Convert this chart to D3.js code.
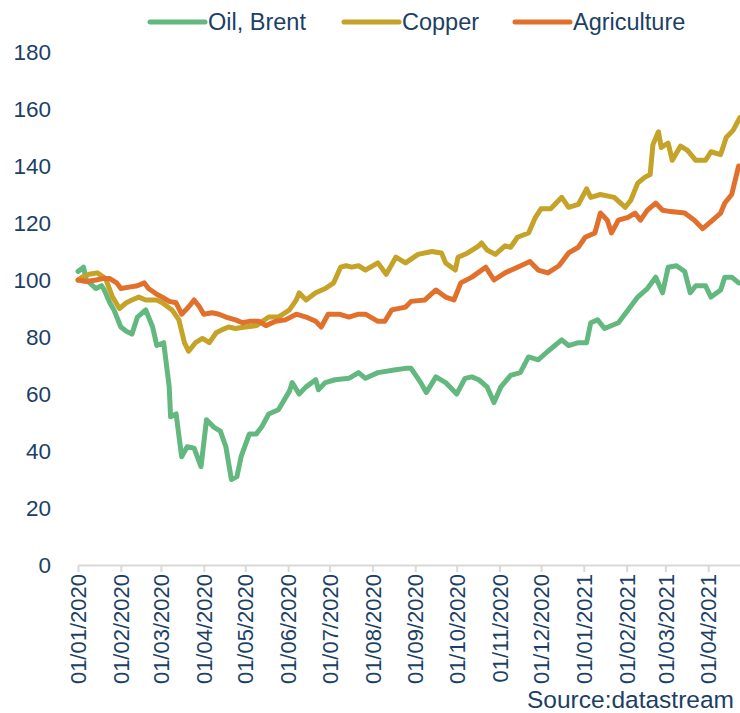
<!DOCTYPE html>
<html>
<head>
<meta charset="utf-8">
<script src="https://cdn.jsdelivr.net/npm/d3@7"></script>
<style>
  body { margin: 0; background: #fff; }
  svg { display: block; font-family: "Liberation Sans", Arial, sans-serif; }
</style>
</head>
<body>
<svg id="chart" width="740" height="713"></svg>
<script>
// Series names and colours
const seriesNames = ["Oil, Brent", "Copper", "Agriculture"];
const seriesColors = ["#62b87f", "#c5a228", "#e2702d"];

// Month ticks on the x axis
const monthTicks = ["2020-01-01", "2020-02-01", "2020-03-01", "2020-04-01", "2020-05-01", "2020-06-01",
  "2020-07-01", "2020-08-01", "2020-09-01", "2020-10-01", "2020-11-01", "2020-12-01",
  "2021-01-01", "2021-02-01", "2021-03-01", "2021-04-01"];
const yTicks = [0, 20, 40, 60, 80, 100, 120, 140, 160, 180];

// Oil, Brent (index, 01/01/2020 = 100)
const oilDates = ["2020-01-01", "2020-01-05", "2020-01-07", "2020-01-14", "2020-01-18", "2020-01-20", "2020-01-24",
  "2020-01-27", "2020-02-01", "2020-02-05", "2020-02-09", "2020-02-13", "2020-02-19", "2020-02-24", "2020-02-27",
  "2020-03-03", "2020-03-07", "2020-03-08", "2020-03-12", "2020-03-16", "2020-03-20", "2020-03-25", "2020-03-30",
  "2020-04-03", "2020-04-08", "2020-04-13", "2020-04-17", "2020-04-21", "2020-04-25", "2020-04-28", "2020-05-04",
  "2020-05-09", "2020-05-13", "2020-05-18", "2020-05-25", "2020-06-02", "2020-06-04", "2020-06-09", "2020-06-14",
  "2020-06-21", "2020-06-23", "2020-06-28", "2020-07-05", "2020-07-15", "2020-07-22", "2020-07-27", "2020-08-05",
  "2020-08-18", "2020-08-25", "2020-08-29", "2020-09-05", "2020-09-09", "2020-09-16", "2020-09-23", "2020-10-01",
  "2020-10-07", "2020-10-12", "2020-10-17", "2020-10-23", "2020-10-28", "2020-11-02", "2020-11-09", "2020-11-16",
  "2020-11-22", "2020-11-29", "2020-12-06", "2020-12-16", "2020-12-21", "2020-12-28", "2021-01-03", "2021-01-06",
  "2021-01-11", "2021-01-16", "2021-01-26", "2021-02-02", "2021-02-09", "2021-02-16", "2021-02-22", "2021-02-27",
  "2021-03-03", "2021-03-09", "2021-03-15", "2021-03-19", "2021-03-23", "2021-03-30", "2021-04-03", "2021-04-10",
  "2021-04-13", "2021-04-18", "2021-04-23"];
const oilValues = [103, 104.5, 100, 97, 98, 96.5, 92,
  89.5, 83.5, 82, 81, 87, 89.5, 83.5, 77,
  78, 62.5, 52, 53, 38, 41.5, 41, 34.5,
  51, 48.5, 47, 41.5, 30, 31, 38, 46,
  46, 48.5, 53, 54.5, 61, 64, 60, 62.5,
  65, 61.5, 64, 65, 65.5, 67.5, 65.5, 67.5,
  68.5, 69, 69, 64, 60.5, 66, 64, 60,
  65.5, 66, 65, 62.5, 57, 62.5, 66.5, 67.5,
  73, 72, 75, 79, 77, 78, 78, 85,
  86, 83, 85, 89.5, 94, 97, 101, 95.5,
  104.5, 105, 103, 95.5, 98, 98, 94, 96.5,
  101, 101, 99];

// Copper
const copperDates = ["2020-01-01", "2020-01-04", "2020-01-09", "2020-01-15", "2020-01-21", "2020-01-26", "2020-01-31",
  "2020-02-05", "2020-02-09", "2020-02-14", "2020-02-19", "2020-02-27", "2020-03-02", "2020-03-09", "2020-03-14",
  "2020-03-18", "2020-03-21", "2020-03-26", "2020-03-31", "2020-04-05", "2020-04-10", "2020-04-14", "2020-04-19",
  "2020-04-24", "2020-05-01", "2020-05-09", "2020-05-18", "2020-05-25", "2020-06-02", "2020-06-07", "2020-06-09",
  "2020-06-14", "2020-06-21", "2020-06-28", "2020-07-04", "2020-07-09", "2020-07-13", "2020-07-17", "2020-07-22",
  "2020-07-27", "2020-08-05", "2020-08-11", "2020-08-18", "2020-08-25", "2020-09-03", "2020-09-13", "2020-09-20",
  "2020-09-23", "2020-09-30", "2020-10-02", "2020-10-09", "2020-10-17", "2020-10-19", "2020-10-23", "2020-10-29",
  "2020-11-05", "2020-11-09", "2020-11-14", "2020-11-22", "2020-11-27", "2020-12-01", "2020-12-08", "2020-12-16",
  "2020-12-21", "2020-12-28", "2021-01-03", "2021-01-06", "2021-01-13", "2021-01-23", "2021-01-31", "2021-02-04",
  "2021-02-09", "2021-02-14", "2021-02-18", "2021-02-20", "2021-02-24", "2021-02-26", "2021-03-03", "2021-03-06",
  "2021-03-12", "2021-03-17", "2021-03-23", "2021-03-30", "2021-04-03", "2021-04-10", "2021-04-14", "2021-04-19",
  "2021-04-24"];
const copperValues = [100, 101, 102, 102.5, 100.5, 94, 90,
  92, 93, 94, 93, 93, 92, 89.5, 86,
  78, 75, 78, 79.5, 78, 81.5, 82.5, 83.5,
  83, 83.5, 84, 87, 87, 89.5, 93, 95.5,
  93, 95.5, 97, 99, 104.5, 105, 104.5, 105,
  103.5, 106, 102, 108, 106, 109, 110, 109.5,
  106, 103.5, 108, 109.5, 112, 113, 110.5, 109,
  112, 111.5, 115, 116.5, 122, 125, 125, 129,
  125.5, 126.5, 132, 129, 130, 129, 125.5, 128,
  134, 136, 137, 147.5, 152, 146.5, 148, 142,
  147, 145.5, 142, 142, 145, 144, 150, 152.5,
  157];

// Agriculture
const agriDates = ["2020-01-01", "2020-01-07", "2020-01-14", "2020-01-19", "2020-01-24", "2020-01-29", "2020-02-01",
  "2020-02-07", "2020-02-13", "2020-02-18", "2020-02-21", "2020-02-27", "2020-03-02", "2020-03-07", "2020-03-12",
  "2020-03-16", "2020-03-21", "2020-03-25", "2020-03-29", "2020-04-01", "2020-04-07", "2020-04-12", "2020-04-17",
  "2020-04-24", "2020-04-29", "2020-05-04", "2020-05-11", "2020-05-16", "2020-05-23", "2020-05-30", "2020-06-07",
  "2020-06-14", "2020-06-21", "2020-06-25", "2020-06-30", "2020-07-08", "2020-07-15", "2020-07-22", "2020-07-27",
  "2020-08-05", "2020-08-10", "2020-08-15", "2020-08-25", "2020-08-29", "2020-09-08", "2020-09-16", "2020-09-23",
  "2020-09-29", "2020-10-04", "2020-10-12", "2020-10-22", "2020-10-28", "2020-11-05", "2020-11-14", "2020-11-23",
  "2020-11-29", "2020-12-06", "2020-12-14", "2020-12-21", "2020-12-28", "2021-01-02", "2021-01-09", "2021-01-13",
  "2021-01-18", "2021-01-21", "2021-01-26", "2021-02-02", "2021-02-07", "2021-02-11", "2021-02-16", "2021-02-22",
  "2021-02-27", "2021-03-05", "2021-03-15", "2021-03-22", "2021-03-28", "2021-04-03", "2021-04-10", "2021-04-13",
  "2021-04-18", "2021-04-23"];
const agriValues = [100, 99.5, 100, 100.5, 100.5, 99, 97,
  97.5, 98, 99, 97, 95, 94, 92.5, 92,
  88, 90.5, 93, 90.5, 88, 88.5, 88, 87,
  86, 85, 85.5, 85.5, 84, 85.5, 86, 88,
  87, 85.5, 83.5, 88, 88, 87, 88, 88,
  85.5, 85.5, 89.5, 90.5, 92.5, 93, 96.5, 94,
  93, 99, 101, 104.5, 100, 102.5, 104.5, 106.5,
  103.5, 102.5, 105, 109.5, 111.5, 115, 116.5, 123.5,
  121, 116.5, 121, 122, 123.5, 121, 124.5, 127,
  124.5, 124, 123.5, 121, 118, 120.5, 123.5, 127,
  130, 140];

const parseDate = d3.timeParse("%Y-%m-%d");

const series = [
  { name: seriesNames[0], color: seriesColors[0], dates: oilDates, values: oilValues },
  { name: seriesNames[1], color: seriesColors[1], dates: copperDates, values: copperValues },
  { name: seriesNames[2], color: seriesColors[2], dates: agriDates, values: agriValues }
].map(function(s) {
  return {
    name: s.name,
    color: s.color,
    points: s.dates.map(function(d, i) { return { date: parseDate(d), value: s.values[i] }; })
  };
});

// Layout
const plot = { left: 78, right: 740, top: 52, bottom: 565 };
const textColor = "#1c3f66";

const svg = d3.select("#chart");

const xScale = d3.scaleTime()
                 .domain([parseDate("2020-01-01"), parseDate("2021-04-24")])
                 .range([plot.left, plot.right]);
const yScale = d3.scaleLinear()
                 .domain([0, 180])
                 .range([plot.bottom, plot.top]);

// Y axis (labels only)
const yAxisG = svg.append("g")
                  .attr("transform", `translate(${plot.left},0)`)
                  .call(d3.axisLeft(yScale).tickValues(yTicks).tickSize(0).tickPadding(27));
yAxisG.select(".domain").remove();
yAxisG.selectAll("text")
      .attr("fill", textColor)
      .style("font-size", "22.5px")
      .style("font-family", "Liberation Sans, Arial, sans-serif");

// X axis
const xAxisG = svg.append("g")
                  .attr("transform", `translate(0,${plot.bottom})`)
                  .call(d3.axisBottom(xScale)
                          .tickValues(monthTicks.map(parseDate))
                          .tickFormat(d3.timeFormat("%d/%m/%Y"))
                          .tickSizeInner(7)
                          .tickSizeOuter(0));
xAxisG.select(".domain")
      .attr("stroke", "#d9d9d9")
      .attr("stroke-width", 2);
xAxisG.selectAll(".tick line")
      .attr("stroke", "#d9d9d9")
      .attr("stroke-width", 2);
xAxisG.selectAll("text")
      .attr("fill", textColor)
      .style("font-size", "22px")
      .style("font-family", "Liberation Sans, Arial, sans-serif")
      .style("text-anchor", "end")
      .attr("transform", "rotate(-90)")
      .attr("x", -9)
      .attr("y", 0)
      .attr("dy", "0.35em");

// Lines
const line = d3.line()
               .x(function(d) { return xScale(d.date); })
               .y(function(d) { return yScale(d.value); });

svg.append("defs").append("clipPath")
   .attr("id", "plot-clip")
   .append("rect")
   .attr("x", plot.left - 5).attr("y", 0)
   .attr("width", plot.right - plot.left + 5).attr("height", plot.bottom);

svg.append("g")
   .attr("clip-path", "url(#plot-clip)")
   .selectAll(".line")
   .data(series)
   .join("path")
     .attr("class", "line")
     .attr("fill", "none")
     .attr("stroke", function(d) { return d.color; })
     .attr("stroke-width", 5)
     .attr("stroke-linejoin", "round")
     .attr("stroke-linecap", "round")
     .attr("d", function(d) { return line(d.points); });

// Legend
const legendX = [150, 344, 515];
const legend = svg.append("g")
                  .selectAll("g")
                  .data(series)
                  .join("g")
                    .attr("transform", function(d, i) { return `translate(${legendX[i]},22)`; });
legend.append("line")
      .attr("x1", 0).attr("x2", 55)
      .attr("stroke", function(d) { return d.color; })
      .attr("stroke-width", 5)
      .attr("stroke-linecap", "round");
legend.append("text")
      .attr("x", 58)
      .attr("dy", "0.35em")
      .attr("fill", textColor)
      .style("font-size", "23.5px")
      .text(function(d) { return d.name; });

// Source
svg.append("text")
   .attr("x", 734)
   .attr("y", 708)
   .attr("fill", textColor)
   .style("font-size", "24.5px")
   .style("text-anchor", "end")
   .text("Source:datastream");
</script>
</body>
</html>
